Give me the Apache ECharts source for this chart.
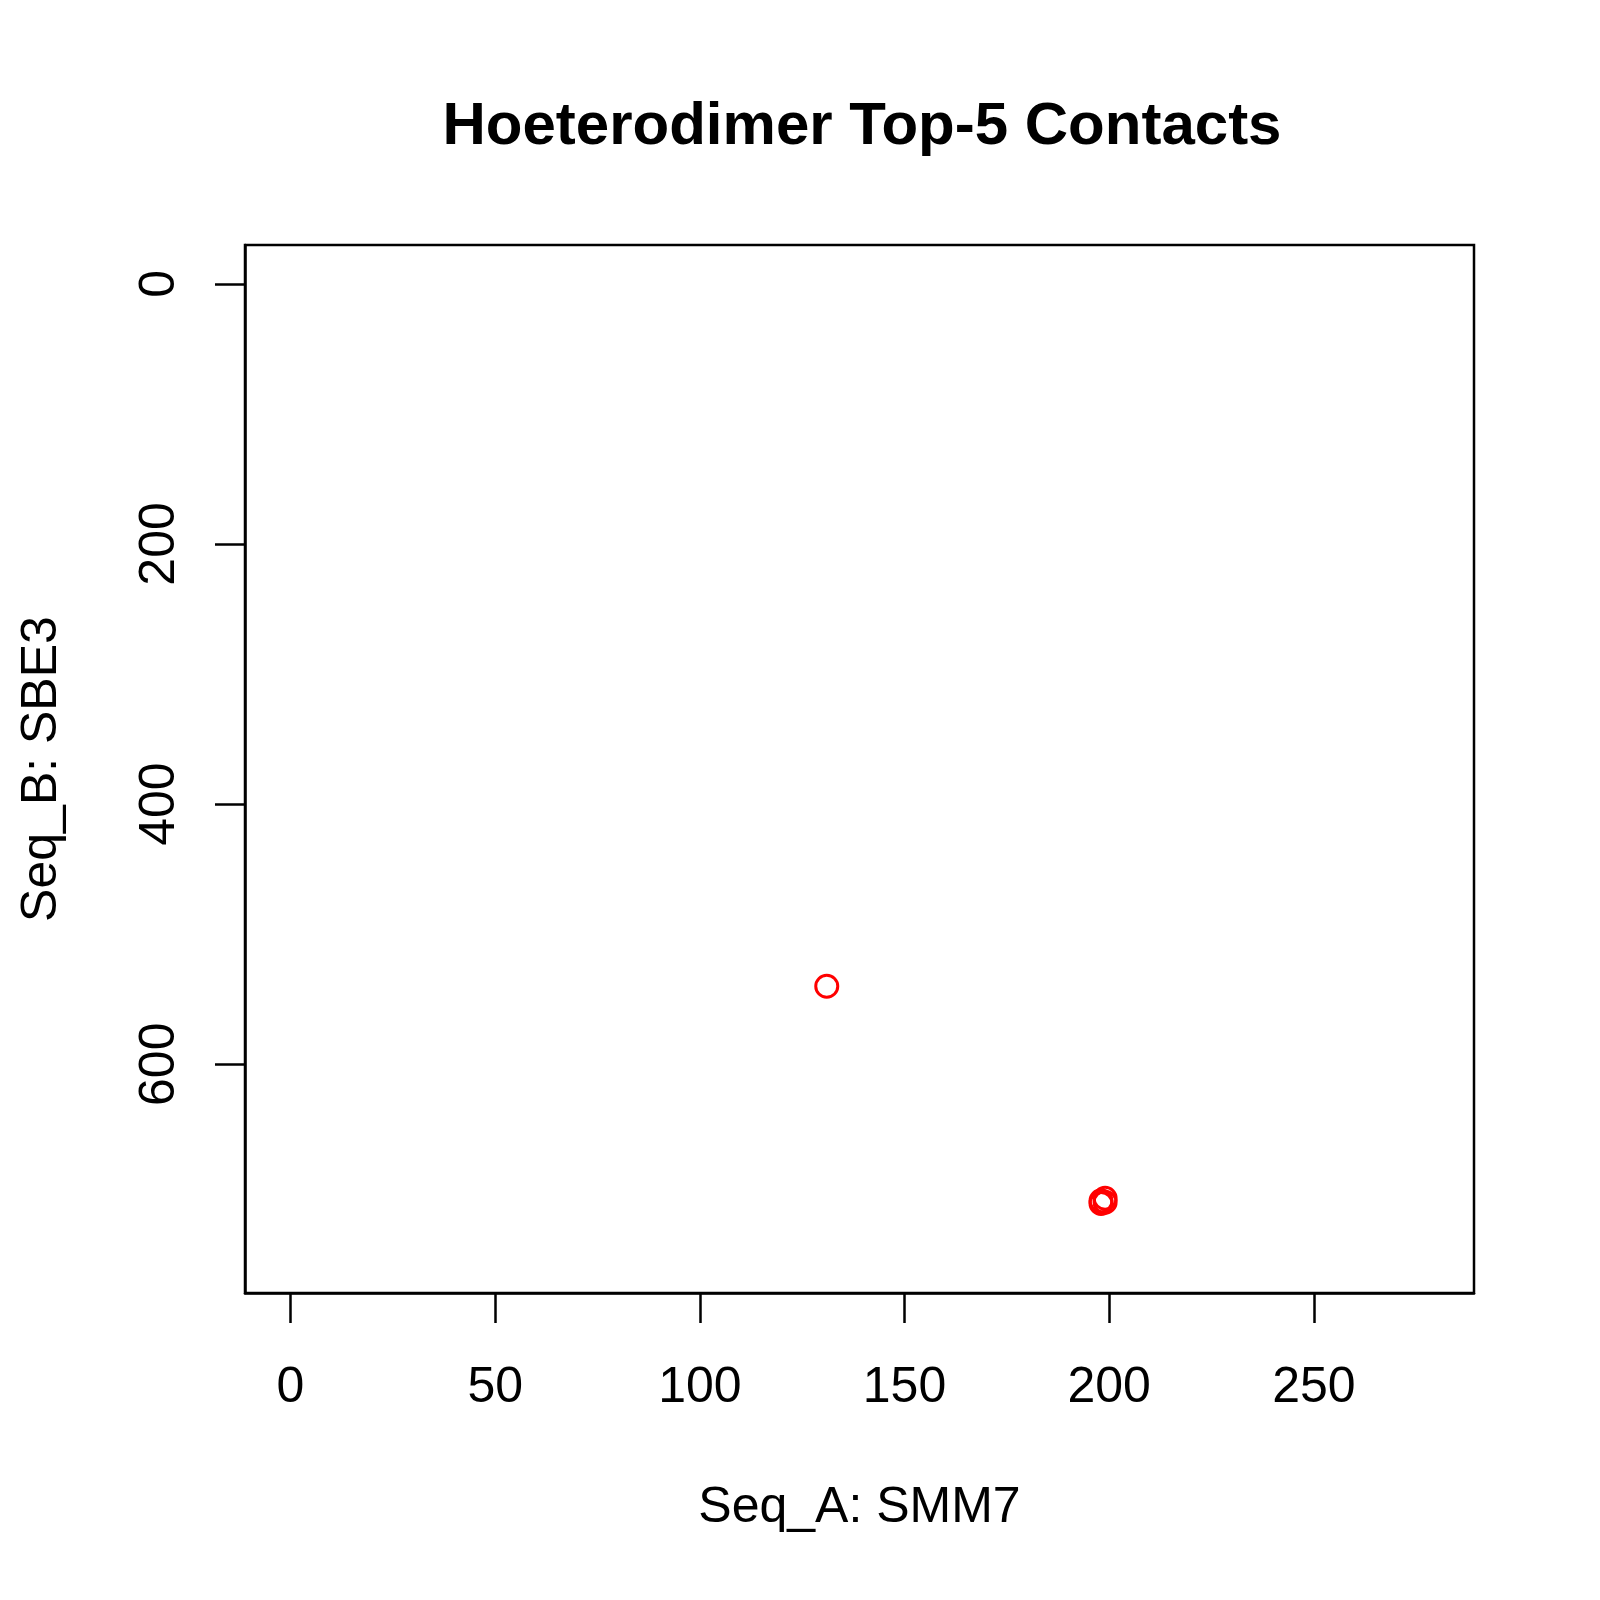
<!DOCTYPE html>
<html><head><meta charset="utf-8">
<script src="https://cdn.jsdelivr.net/npm/echarts@6/dist/echarts.min.js"></script>
<style>html,body{margin:0;padding:0;background:#fff}#c{width:1600px;height:1600px}</style>
</head><body><div id="c"></div>
<script>
const seqA = [131, 198, 199, 198, 199];
const seqB = [540, 707, 703, 705, 706];
const xTicks = [0, 50, 100, 150, 200, 250];
const yTicks = [0, 200, 400, 600];
const xLim = [0, 278];
const yLim = [0, 746];

const xPad = (xLim[1] - xLim[0]) * 0.04;
const yPad = (yLim[1] - yLim[0]) * 0.04;
const font = 'Liberation Sans, Arial, Helvetica, sans-serif';
const chart = echarts.init(document.getElementById('c'));
chart.setOption({
  animation: false,
  backgroundColor: '#fff',
  title: {
    text: 'Hoeterodimer Top-5 Contacts',
    left: 857, top: 92, textAlign: 'center',
    textStyle: { fontFamily: font, fontWeight: 'bold', fontSize: 60, color: '#000' }
  },
  grid: { left: 245, top: 245, width: 1229, height: 1048, show: true, borderColor: '#000', borderWidth: 2.5, backgroundColor: 'transparent' },
  xAxis: {
    type: 'value', min: xLim[0] - xPad, max: xLim[1] + xPad,
    name: 'Seq_A: SMM7', nameLocation: 'middle', nameGap: 190,
    nameTextStyle: { fontFamily: font, fontSize: 50, color: '#000' },
    axisLine: { show: true, onZero: false, lineStyle: { color: '#000', width: 2.5 } },
    splitLine: { show: false },
    axisTick: { show: true, inside: false, length: 30, lineStyle: { color: '#000', width: 2.5 }, customValues: xTicks },
    axisLabel: { fontFamily: font, fontSize: 50, color: '#000', margin: 70, customValues: xTicks }
  },
  yAxis: {
    type: 'value', inverse: true, min: yLim[0] - yPad, max: yLim[1] + yPad,
    name: 'Seq_B: SBE3', nameLocation: 'middle', nameGap: 178, nameRotate: 90,
    nameTextStyle: { fontFamily: font, fontSize: 50, color: '#000' },
    axisLine: { show: true, onZero: false, lineStyle: { color: '#000', width: 2.5 } },
    splitLine: { show: false },
    axisTick: { show: true, inside: false, length: 30, lineStyle: { color: '#000', width: 2.5 }, customValues: yTicks },
    axisLabel: { fontFamily: font, fontSize: 50, color: '#000', margin: 60, rotate: 90, customValues: yTicks }
  },
  series: [{
    type: 'scatter',
    data: seqA.map((x, i) => [x, seqB[i]]),
    symbol: 'circle', symbolSize: 22,
    itemStyle: { color: 'rgba(0,0,0,0)', borderColor: '#ff0000', borderWidth: 3, opacity: 1 }
  }]
});
</script></body></html>
